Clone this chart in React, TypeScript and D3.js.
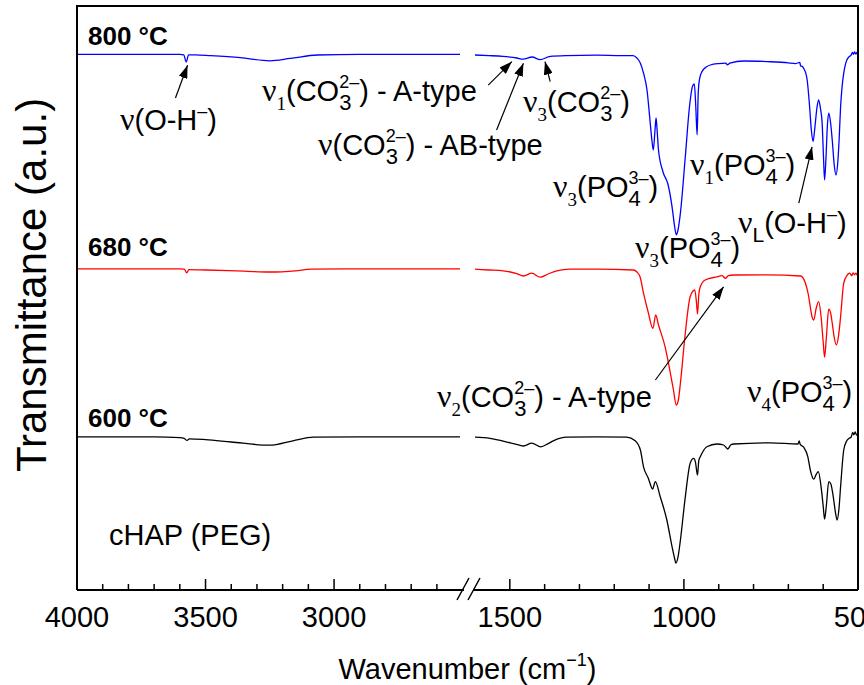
import React, { useEffect, useRef } from 'react';
import * as d3 from 'd3';

// spectra: [wavenumber (cm-1), transmittance (a.u., stacked)]
const s800Left: [number, number][] = [
  [4000, 133.9], [3800, 133.9], [3600, 133.9], [3585, 133.8], [3575, 132.0], [3566, 133.8],
  [3540, 133.8], [3480, 133.6], [3365, 133.1], [3250, 132.3], [3170, 132.9], [3065, 133.75],
  [2900, 133.9], [2700, 133.9], [2510, 133.9],
];
const s800Right: [number, number][] = [
  [1600, 133.75], [1560, 133.6], [1520, 133.4], [1480, 133.0], [1462, 132.7], [1436, 133.25],
  [1413, 132.6], [1384, 133.4], [1340, 133.6], [1250, 133.7], [1180, 133.6], [1146, 133.6],
  [1135, 133.0], [1125, 131.7], [1116, 129.2], [1106, 125], [1097, 117], [1092, 112.5],
  [1088, 110], [1083, 115], [1080, 118], [1077, 115], [1073, 110], [1060, 104.5], [1046, 101.5],
  [1034, 95.8], [1026, 90.5], [1022, 88.8], [1017, 90], [1010, 94.3], [996, 108.3], [984, 120.8],
  [975, 126], [970, 126.5], [966, 121], [962, 113.8], [959, 124], [955, 127.8], [948, 129.6],
  [935, 130.8], [924, 131.25], [900, 131.6], [880, 131.7], [875, 131.3], [868, 131.7],
  [828, 132.25], [760, 132.1], [700, 131.8], [680, 131.6], [667, 131.9], [665, 131.0],
  [660, 130.9], [656, 130.4], [650, 129.2], [646, 127.5], [639, 120.8], [634, 115], [629, 112.1],
  [624, 115.5], [618, 120.5], [613, 122.5], [608, 120.5], [603, 116.75], [599, 108], [596, 102.5],
  [592, 108], [588, 116], [584, 119.2], [579, 117], [574, 112.5], [568, 106], [563, 103.75],
  [558, 107], [554, 113], [550, 120.8], [546, 125.5], [541, 129.2], [535, 131.8], [526, 133.3],
  [520, 133.7], [516, 134.4], [513, 133.9], [510, 134.5], [506, 134.0], [503, 134.4], [500, 134.1],
];

const s680Left: [number, number][] = [
  [4000, 80.3], [3600, 80.3], [3583, 80.2], [3573, 79.3], [3565, 80.1], [3500, 80.0],
  [3350, 79.7], [3250, 79.5], [3150, 79.8], [3090, 80.2], [2900, 80.3], [2510, 80.3],
];
const s680Right: [number, number][] = [
  [1600, 80.2], [1560, 80.0], [1519, 79.8], [1480, 79.1], [1461, 78.5], [1437, 79.2],
  [1413, 78.2], [1390, 79.0], [1365, 79.8], [1327, 80.2], [1250, 80.2], [1145, 80.0],
  [1135, 79.5], [1126, 78.3], [1116, 74.2], [1102, 69.25], [1089, 65.4], [1081, 68.75],
  [1073, 66.25], [1054, 60.8], [1039, 54.25], [1030, 50], [1022, 46.25], [1016, 47.5],
  [1010, 51.75], [996, 64.25], [982, 73.3], [969, 75], [964, 72], [961, 69], [957, 74],
  [953, 75.8], [939, 77.5], [905, 78.3], [890, 78.6], [881, 77.9], [872, 78.6], [857, 78.75],
  [760, 78.8], [665, 78.5], [651, 76.7], [643, 74], [637, 70.8], [632, 68.3], [627, 67.5],
  [620, 70.5], [613, 72.1], [606, 68.3], [600, 62], [596, 58.2], [591, 63], [584, 70.2],
  [578, 69], [574, 66.7], [568, 63], [562, 61.25], [556, 63.5], [550, 68.3], [541, 76.7],
  [531, 78.75], [524, 79.2], [518, 78.6], [514, 79.3], [510, 78.8], [506, 79.2], [502, 78.7],
  [500, 79.0],
];

const s600Left: [number, number][] = [
  [4000, 38.3], [3700, 38.3], [3600, 38.1], [3583, 37.9], [3572, 37.4], [3563, 37.8],
  [3500, 37.6], [3400, 37.0], [3250, 36.2], [3160, 37.3], [3080, 38.2], [2900, 38.3],
  [2510, 38.3],
];
const s600Right: [number, number][] = [
  [1600, 38.2], [1557, 37.9], [1499, 36.8], [1475, 36.3], [1461, 36.0], [1437, 36.7],
  [1411, 35.8], [1390, 36.6], [1375, 37.3], [1336, 38.2], [1250, 38.3], [1164, 38.2],
  [1140, 37.3], [1125, 35], [1116, 30.8], [1102, 27.9], [1090, 25.25], [1082, 27.1],
  [1068, 23.3], [1049, 17.5], [1034, 10.8], [1027, 8], [1023, 6.7], [1017, 8.2], [1010, 12.5],
  [996, 23.3], [982, 31.7], [972, 32.9], [967, 32], [961, 28.75], [957, 32.5], [953, 33.3],
  [934, 35.8], [905, 36.5], [886, 36.25], [874, 35.25], [865, 36.3], [857, 36.5], [752, 36.8],
  [672, 36.5], [669, 37.3], [666, 36.4], [656, 35.7], [644, 33.3], [637, 30], [627, 27.7],
  [620, 28.9], [614, 29.6], [606, 25.8], [600, 21], [596, 17.7], [591, 21], [584, 27.1],
  [578, 26.5], [571, 23.3], [565, 19.5], [560, 17.5], [555, 20], [550, 25.8], [541, 35],
  [533, 37.2], [526, 37.9], [520, 38.2], [515, 39.4], [512, 38.8], [508, 39.5], [504, 38.7],
  [500, 39.2],
];

const seriesNames = ['800 °C', '680 °C', '600 °C'];
const seriesColors = ['#0000ff', '#ff0000', '#000000'];
const leftData = [s800Left, s680Left, s600Left];
const rightData = [s800Right, s680Right, s600Right];

const leftTickLabels = [4000, 3500, 3000];
const rightTickLabels = [1500, 1000, 500];

type Part = { t: string; k?: 'nu' | 'nsub' | 'lsub' | 'sup' | 'stack'; sup?: string };

const nu: Part = { t: 'ν', k: 'nu' };
const co3: Part = { t: '3', k: 'stack', sup: '2–' };
const po4: Part = { t: '4', k: 'stack', sup: '3–' };

// annotation text, left end at baseline
const annotations: { x: number; y: number; parts: Part[] }[] = [
  { x: 120, y: 130, parts: [nu, { t: '(O-H' }, { t: '–', k: 'sup' }, { t: ')' }] },
  { x: 262, y: 101, parts: [nu, { t: '1', k: 'nsub' }, { t: '(CO' }, co3, { t: ') - A-type' }] },
  { x: 318, y: 155, parts: [nu, { t: '(CO' }, co3, { t: ') - AB-type' }] },
  { x: 523, y: 112, parts: [nu, { t: '3', k: 'nsub' }, { t: '(CO' }, co3, { t: ')' }] },
  { x: 553, y: 197, parts: [nu, { t: '3', k: 'nsub' }, { t: '(PO' }, po4, { t: ')' }] },
  { x: 690, y: 175, parts: [nu, { t: '1', k: 'nsub' }, { t: '(PO' }, po4, { t: ')' }] },
  { x: 738, y: 233, parts: [nu, { t: 'L', k: 'lsub' }, { t: '(O-H' }, { t: '–', k: 'sup' }, { t: ')' }] },
  { x: 635, y: 258, parts: [nu, { t: '3', k: 'nsub' }, { t: '(PO' }, po4, { t: ')' }] },
  { x: 437, y: 407, parts: [nu, { t: '2', k: 'nsub' }, { t: '(CO' }, co3, { t: ') - A-type' }] },
  { x: 747, y: 402, parts: [nu, { t: '4', k: 'nsub' }, { t: '(PO' }, po4, { t: ')' }] },
];

// arrows in data space: segment, tail [wn, a.u.], head [wn, a.u.]
const arrows: { seg: 'L' | 'R'; from: [number, number]; to: [number, number] }[] = [
  { seg: 'L', from: [3617, 123], to: [3570, 131.2] },
  { seg: 'R', from: [1562, 126.2], to: [1494, 132.1] },
  { seg: 'R', from: [1538, 115], to: [1461, 131.7] },
  { seg: 'R', from: [1384, 127.1], to: [1399, 132.1] },
  { seg: 'R', from: [670, 96.7], to: [632, 110.8] },
  { seg: 'R', from: [1082, 52.5], to: [886, 75.8] },
];

const SANS = 'Liberation Sans, Arial, sans-serif';
const SERIF = 'Liberation Serif, Times New Roman, serif';

function rich(g: any, x: number, y: number, parts: Part[], size = 29) {
  let cx = x;
  const add = (t: string, px: number, py: number, fs: number, fam: string) => {
    const el = g.append('text').attr('x', px).attr('y', py)
      .style('font-family', fam).style('font-size', `${fs}px`).style('white-space', 'pre').text(t);
    return (el.node() as SVGTextElement).getComputedTextLength();
  };
  parts.forEach(p => {
    if (p.k === 'stack') {
      const a = add(p.sup || '', cx, y - 13, 18, SANS);
      const b = add(p.t, cx, y + 9, 22, SANS);
      cx += Math.max(a, b);
    } else if (p.k === 'nu') {
      cx += add(p.t, cx, y, 32, SERIF);
    } else if (p.k === 'nsub') {
      cx += add(p.t, cx, y + 9, 19, SERIF);
    } else if (p.k === 'lsub') {
      cx += add(p.t, cx, y + 9, 21, SANS);
    } else if (p.k === 'sup') {
      cx += add(p.t, cx, y - 13, 18, SANS);
    } else {
      cx += add(p.t, cx, y, size, SANS);
    }
  });
  return cx - x;
}

export default function App() {
  const svgRef = useRef<SVGSVGElement>(null);

  useEffect(() => {
    document.body.style.margin = '0';
    const svg = d3.select(svgRef.current);
    svg.selectAll('*').remove();

    const left = 77, right = 858, top = 6, bottom = 590;
    const xLeft = d3.scaleLinear().domain([4000, 2500]).range([left, 462.6]);
    const xRight = d3.scaleLinear().domain([1600, 500]).range([475, right]);
    const y = d3.scaleLinear().domain([0, 146]).range([bottom, top]);

    const lineL = d3.line<[number, number]>().x(d => xLeft(d[0])).y(d => y(d[1])).curve(d3.curveMonotoneX);
    const lineR = d3.line<[number, number]>().x(d => xRight(d[0])).y(d => y(d[1])).curve(d3.curveMonotoneX);

    const plot = svg.append('g');
    leftData.forEach((d, i) => {
      plot.append('path').attr('d', lineL(d)).attr('fill', 'none')
        .attr('stroke', seriesColors[i]).attr('stroke-width', 1.3);
    });
    rightData.forEach((d, i) => {
      plot.append('path').attr('d', lineR(d)).attr('fill', 'none')
        .attr('stroke', seriesColors[i]).attr('stroke-width', 1.3);
    });

    // frame with axis break
    const frame = svg.append('g').attr('stroke', '#000').attr('stroke-width', 2).attr('fill', 'none');
    frame.append('path').attr('d', `M${left},${bottom}V${top}H${right}V${bottom}`);
    frame.append('path').attr('d', `M${left},${bottom}H464M473,${bottom}H${right}`);
    frame.append('path').attr('stroke-width', 1.5)
      .attr('d', `M457,600L469,578M468,600L480,578`);

    // ticks
    const ticks = svg.append('g').attr('stroke', '#000').attr('stroke-width', 1.5);
    d3.range(4000, 2550, -100).forEach(v => {
      const len = v % 500 === 0 ? 11 : 6;
      ticks.append('line').attr('x1', xLeft(v)).attr('x2', xLeft(v)).attr('y1', bottom).attr('y2', bottom - len);
    });
    d3.range(1500, 499, -100).forEach(v => {
      const len = v % 500 === 0 ? 11 : 6;
      ticks.append('line').attr('x1', xRight(v)).attr('x2', xRight(v)).attr('y1', bottom).attr('y2', bottom - len);
    });

    const tl = svg.append('g').style('font-family', SANS).style('font-size', '29px')
      .attr('text-anchor', 'middle').attr('fill', '#000');
    leftTickLabels.forEach(v => tl.append('text').attr('x', xLeft(v)).attr('y', 627).text(v));
    rightTickLabels.forEach(v => tl.append('text').attr('x', xRight(v)).attr('y', 627).text(v));

    // axis titles
    const xt = svg.append('g');
    const w = rich(xt, 0, 679, [{ t: 'Wavenumber (cm' }, { t: '−1', k: 'sup' }, { t: ')' }], 29);
    xt.attr('transform', `translate(${(left + right) / 2 - w / 2},0)`);

    svg.append('text').attr('transform', 'translate(46,285) rotate(-90)')
      .attr('text-anchor', 'middle').style('font-family', SANS).style('font-size', '42px')
      .text('Transmittance (a.u.)');

    // series labels
    const labelY = [45, 256, 427];
    seriesNames.forEach((n, i) => {
      svg.append('text').attr('x', 88).attr('y', labelY[i]).style('font-family', SANS)
        .style('font-size', '26px').style('font-weight', 'bold').text(n);
    });
    svg.append('text').attr('x', 109).attr('y', 545).style('font-family', SANS)
      .style('font-size', '29px').text('cHAP (PEG)');

    // annotations
    const ann = svg.append('g').attr('fill', '#000');
    annotations.forEach(a => rich(ann, a.x, a.y, a.parts));

    const defs = svg.append('defs');
    defs.append('marker').attr('id', 'ah').attr('markerUnits', 'userSpaceOnUse')
      .attr('markerWidth', 13).attr('markerHeight', 9).attr('refX', 13).attr('refY', 4.5)
      .attr('orient', 'auto')
      .append('path').attr('d', 'M0,0L13,4.5L0,9Z').attr('fill', '#000');

    arrows.forEach(a => {
      const sx = a.seg === 'L' ? xLeft : xRight;
      svg.append('line')
        .attr('x1', sx(a.from[0])).attr('y1', y(a.from[1]))
        .attr('x2', sx(a.to[0])).attr('y2', y(a.to[1]))
        .attr('stroke', '#000').attr('stroke-width', 1.2).attr('marker-end', 'url(#ah)');
    });
  }, []);

  return (
    <svg ref={svgRef} width={864} height={685} style={{ display: 'block', background: '#fff' }}></svg>
  );
}
